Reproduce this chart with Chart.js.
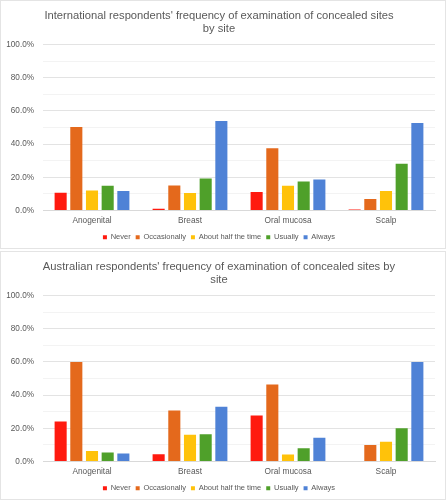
<!DOCTYPE html>
<html>
<head>
<meta charset="utf-8">
<script src="https://cdn.jsdelivr.net/npm/chart.js@4"></script>
<style>
  html, body { margin: 0; padding: 0; background: #ffffff; }
  body { width: 446px; height: 500px; position: relative; overflow: hidden; }
  .panel { position: absolute; left: 0; width: 446px; height: 249px; box-sizing: border-box; border: 1px solid #e4e4e4; background: #fff; }
  .panel canvas { position: absolute; left: 0; top: 0; }
</style>
</head>
<body>
<div class="panel" style="top:0px;"><canvas id="c1" width="444" height="247"></canvas></div>
<div class="panel" style="top:251px;"><canvas id="c2" width="444" height="247"></canvas></div>
<script>
const categories = ["Anogenital", "Breast", "Oral mucosa", "Scalp"];
const seriesNames = ["Never", "Occasionally", "About half the time", "Usually", "Always"];
const seriesColors = ["#FF1A0F", "#E4691C", "#FFC20A", "#4FA02A", "#4F82D6"];

const titleIntl = ["International respondents' frequency of examination of concealed sites", "by site"];
const intlNever = [10.7, 1.0, 11.1, 0.6];
const intlOccasionally = [50.3, 15.1, 37.6, 7.0];
const intlHalf = [12.1, 10.5, 14.9, 11.7];
const intlUsually = [14.9, 19.3, 17.5, 28.2];
const intlAlways = [11.7, 53.9, 18.7, 52.7];

const titleAus = ["Australian respondents' frequency of examination of concealed sites by", "site"];
const ausNever = [24.1, 4.4, 27.8, 0];
const ausOccasionally = [60.0, 30.8, 46.5, 9.9];
const ausHalf = [6.4, 16.1, 4.2, 11.9];
const ausUsually = [5.4, 16.5, 8.0, 20.1];
const ausAlways = [4.8, 33.0, 14.3, 60.0];

const yTickValues = [0, 10, 20, 30, 40, 50, 60, 70, 80, 90, 100];

const FONT = "'Liberation Sans', Arial, Helvetica, sans-serif";

function makeChart(id, title, seriesData) {
  const datasets = seriesData.map((d, i) => ({
    label: seriesNames[i],
    data: d,
    backgroundColor: seriesColors[i],
    borderWidth: 0,
    categoryPercentage: 0.8,
    barPercentage: 0.77
  }));
  return new Chart(document.getElementById(id), {
    type: 'bar',
    data: { labels: categories, datasets },
    options: {
      responsive: false,
      animation: false,
      layout: { padding: { left: 2, right: 10, top: 9, bottom: -3 } },
      plugins: {
        title: {
          display: true,
          text: title,
          color: '#595959',
          font: { family: FONT, size: 11.2, weight: 'normal', lineHeight: 1.1 },
          padding: { top: 0, bottom: 10 }
        },
        legend: {
          position: 'bottom',
          labels: {
            boxWidth: 4, boxHeight: 4,
            color: '#595959',
            font: { family: FONT, size: 7.5 },
            padding: 5
          }
        },
        tooltip: { enabled: false }
      },
      scales: {
        x: {
          grid: { display: false, drawTicks: false },
          border: { color: '#d9d9d9' },
          ticks: { color: '#595959', font: { family: FONT, size: 8.3 }, padding: 5 },
          afterFit: (s) => { s.height = 18; }
        },
        y: {
          min: 0, max: 100,
          afterBuildTicks: (ax) => { ax.ticks = yTickValues.map(v => ({ value: v })); },
          grid: {
            drawTicks: false,
            color: (ctx) => (ctx.tick && ctx.tick.value % 20 === 0) ? '#e3e3e3' : '#f3f3f3',
            lineWidth: 1
          },
          border: { display: false },
          ticks: {
            color: '#595959',
            font: { family: FONT, size: 8.2 },
            padding: 9,
            autoSkip: false,
            callback: (v) => (v % 20 === 0) ? v.toFixed(1) + '%' : ''
          },
          afterFit: (s) => { s.width = 40; }
        }
      }
    }
  });
}

makeChart('c1', titleIntl, [intlNever, intlOccasionally, intlHalf, intlUsually, intlAlways]);
makeChart('c2', titleAus, [ausNever, ausOccasionally, ausHalf, ausUsually, ausAlways]);
</script>
</body>
</html>
